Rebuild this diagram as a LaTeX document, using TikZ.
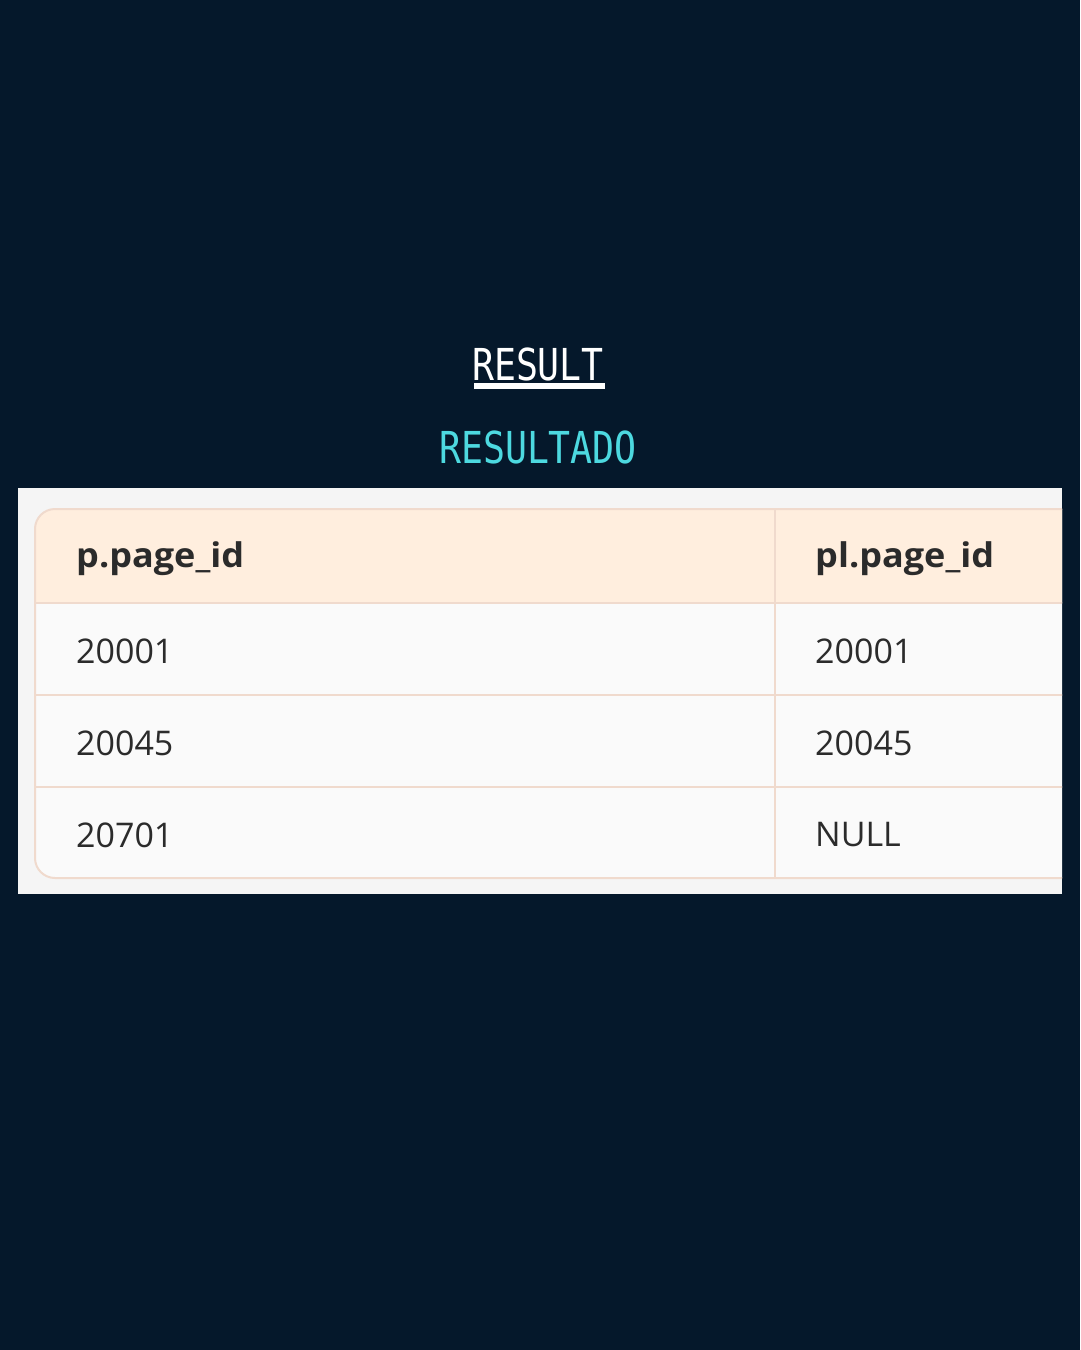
\documentclass[tikz,border=0pt]{standalone}
\usepackage{fontspec}
\usepackage{graphicx}
\setmainfont{Open Sans}
\newfontfamily\monofont{DejaVu Sans Mono}
\definecolor{bgnavy}{RGB}{5,24,43}
\definecolor{panelgray}{RGB}{245,245,245}
\definecolor{headfill}{RGB}{255,238,222}
\definecolor{rowfill}{RGB}{250,250,250}
\definecolor{gridline}{RGB}{240,218,205}
\definecolor{cyantxt}{RGB}{77,217,224}
\definecolor{celltxt}{RGB}{43,43,43}
\tikzset{
  titletxt/.style={font=\monofont\fontsize{44}{44}\selectfont, inner sep=0pt},
  headtxt/.style={font=\bfseries\fontsize{34}{34}\selectfont, text=celltxt, anchor=west, inner sep=0pt},
  celltext/.style={font=\fontsize{34}{34}\selectfont, text=celltxt, anchor=west, inner sep=0pt},
  grid/.style={draw=gridline, line width=2pt}
}
\begin{document}
\begin{tikzpicture}[x=1pt,y=-1pt]
\useasboundingbox (0,0) rectangle (1080,1350);
\fill[bgnavy] (0,0) rectangle (1080,1350);
% titles
\node[titletxt, text=white] (title) at (538,364) {\scalebox{0.83}[1]{RESULT}};
\fill[white] (474,383) rectangle (605,388.5);
\node[titletxt, text=cyantxt] (subtitle) at (538,447) {\scalebox{0.83}[1]{RESULTADO}};
% panel
\fill[panelgray] (18,488) rectangle (1062,894);
\begin{scope}
\clip (18,488) rectangle (1062,894);
\fill[rowfill, rounded corners=20pt] (35,509) rectangle (1120,878);
\begin{scope}
\clip[rounded corners=20pt] (35,509) rectangle (1120,878);
\fill[headfill] (35,509) rectangle (1120,603);
\end{scope}
\draw[grid] (35,603) -- (1120,603);
\draw[grid] (35,695) -- (1120,695);
\draw[grid] (35,787) -- (1120,787);
\draw[grid] (775,509) -- (775,878);
\draw[grid, rounded corners=20pt] (35,509) rectangle (1120,878);
\end{scope}
% cells
\node[headtxt] (h1) at (76,559) {\scalebox{1.06}[1]{p.page\_id}};
\node[headtxt] (h2) at (815,559) {\scalebox{1.06}[1]{pl.page\_id}};
\node[celltext] (a1) at (76,651) {20001};
\node[celltext] (b1) at (815,651) {20001};
\node[celltext] (a2) at (76,743) {20045};
\node[celltext] (b2) at (815,743) {20045};
\node[celltext] (a3) at (76,835) {20701};
\node[celltext] (b3) at (815,835) {NULL};
\end{tikzpicture}
\end{document}
